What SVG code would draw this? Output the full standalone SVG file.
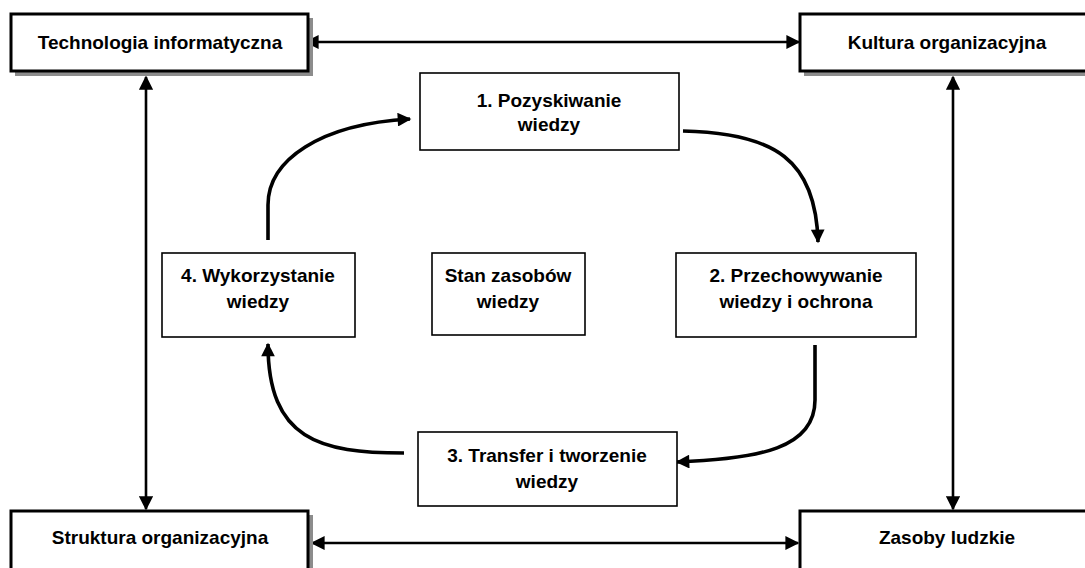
<svg xmlns="http://www.w3.org/2000/svg" width="1085" height="568" viewBox="0 0 1085 568">
<style>
.t{font-family:"Liberation Sans",Arial,sans-serif;font-weight:bold;font-size:19px;fill:#000;text-anchor:middle}
.outer{fill:#fff;stroke:#000;stroke-width:3}
.shadow{fill:#8c8c8c}
.inner{fill:#fff;stroke:#000;stroke-width:1.6}
.ln{fill:none;stroke:#000;stroke-width:2.6}
.cv{fill:none;stroke:#000;stroke-width:3.6;stroke-linecap:butt}
</style>
<defs>
<marker id="ah" viewBox="0 0 10 10" refX="9" refY="5" markerWidth="6.2" markerHeight="5.4" markerUnits="strokeWidth" orient="auto-start-reverse">
<path d="M0,0 L10,5 L0,10 z" fill="#000"/>
</marker>
<marker id="ahc" viewBox="0 0 10 10" refX="9" refY="5" markerWidth="4.4" markerHeight="3.8" markerUnits="strokeWidth" orient="auto">
<path d="M0,0 L10,5 L0,10 z" fill="#000"/>
</marker>
</defs>
<rect width="1085" height="568" fill="#fff"/>
<g id="connectors">
<line class="ln" x1="306" y1="42" x2="799" y2="42" marker-start="url(#ah)" marker-end="url(#ah)"/>
<line class="ln" x1="312" y1="543" x2="798" y2="543" marker-start="url(#ah)" marker-end="url(#ah)"/>
<line class="ln" x1="146" y1="77" x2="146" y2="509" marker-start="url(#ah)" marker-end="url(#ah)"/>
<line class="ln" x1="953" y1="77" x2="953" y2="509" marker-start="url(#ah)" marker-end="url(#ah)"/>
<path class="cv" d="M268,240 L268,205 C268,160 320,124 410,119" marker-end="url(#ahc)"/>
<path class="cv" d="M683,131 C775,133 816,160 818,242" marker-end="url(#ahc)"/>
<path class="cv" d="M815,345 L815,400 C815,448 760,459 677,462" marker-end="url(#ahc)"/>
<path class="cv" d="M404,453 C320,453 268,440 268,344" marker-end="url(#ahc)"/>
</g>
<g id="n-tech">
<rect class="shadow" x="15" y="18" width="298" height="58"/>
<rect class="outer" x="11" y="14" width="297" height="57"/>
<text class="t" x="160" y="49">Technologia informatyczna</text>
</g>
<g id="n-kultura">
<rect class="shadow" x="804" y="18" width="298" height="58"/>
<rect class="outer" x="800" y="14" width="297" height="57"/>
<text class="t" x="947" y="49">Kultura organizacyjna</text>
</g>
<g id="n-struktura">
<rect class="shadow" x="15" y="515" width="298" height="70"/>
<rect class="outer" x="11" y="511" width="297" height="70"/>
<text class="t" x="160" y="544">Struktura organizacyjna</text>
</g>
<g id="n-zasoby">
<rect class="shadow" x="804" y="515" width="298" height="70"/>
<rect class="outer" x="800" y="511" width="297" height="70"/>
<text class="t" x="947" y="544">Zasoby ludzkie</text>
</g>
<g id="n-1">
<rect class="inner" x="420" y="73" width="259" height="77"/>
<text class="t" x="549" y="107">1. Pozyskiwanie</text>
<text class="t" x="549" y="131">wiedzy</text>
</g>
<g id="n-4">
<rect class="inner" x="162" y="253" width="193" height="84"/>
<text class="t" x="258" y="282">4. Wykorzystanie</text>
<text class="t" x="258" y="308">wiedzy</text>
</g>
<g id="n-stan">
<rect class="inner" x="432" y="253" width="153" height="82"/>
<text class="t" x="508" y="282">Stan zasobów</text>
<text class="t" x="508" y="308">wiedzy</text>
</g>
<g id="n-2">
<rect class="inner" x="676" y="253" width="240" height="84"/>
<text class="t" x="796" y="282">2. Przechowywanie</text>
<text class="t" x="796" y="308">wiedzy i ochrona</text>
</g>
<g id="n-3">
<rect class="inner" x="418" y="432" width="259" height="74"/>
<text class="t" x="547" y="462">3. Transfer i tworzenie</text>
<text class="t" x="547" y="488">wiedzy</text>
</g>
</svg>
